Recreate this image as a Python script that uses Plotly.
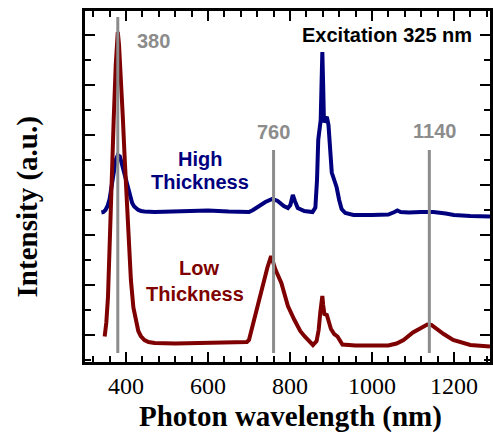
import plotly.graph_objects as go

# ---------------- data ----------------
high_nm = [340, 345, 350, 355, 360, 365, 370, 375, 380, 385, 390, 395, 400, 405, 410, 415, 420, 425, 430, 437, 445,
           470, 520, 560, 600, 650, 690, 700, 710, 720, 740, 757, 770, 785, 795, 801, 807, 812, 819, 835, 855,
           862, 866, 869, 872, 875, 877, 879, 881, 883, 886, 890, 894, 898, 902, 908, 914, 920, 926, 935,
           955, 1000, 1040, 1055, 1062, 1070, 1090, 1120, 1150, 1180, 1200, 1240, 1288]
high_int = [2.45, 2.46, 2.50, 2.58, 2.72, 2.95, 3.25, 3.50, 3.60, 3.57, 3.42, 3.25, 3.10, 2.90, 2.75, 2.64, 2.57, 2.53, 2.50, 2.48, 2.47,
            2.46, 2.47, 2.48, 2.49, 2.47, 2.45, 2.46, 2.50, 2.56, 2.66, 2.72, 2.68, 2.58, 2.54, 2.60, 2.80, 2.68, 2.54, 2.48, 2.46,
            2.55, 3.10, 3.90, 4.20, 4.30, 5.00, 5.66, 5.00, 4.25, 4.32, 4.36, 4.20, 3.70, 3.25, 3.10, 2.95, 2.70, 2.52, 2.44,
            2.40, 2.40, 2.41, 2.46, 2.49, 2.46, 2.45, 2.46, 2.46, 2.43, 2.40, 2.38, 2.37]

low_nm = [348, 352, 356, 360, 365, 370, 375, 378, 380, 383, 387, 392, 397, 402, 407, 412, 418, 425, 430, 436, 445,
          455, 470, 520, 600, 660, 695, 700, 706, 720, 730, 745, 754, 765, 779, 795, 811, 825, 836, 856,
          865, 870, 874, 877, 879, 881, 884, 890, 895, 900, 908, 916, 928, 960, 1000, 1040, 1060, 1077,
          1100, 1117, 1135, 1145, 1157, 1175, 1198, 1220, 1240, 1288]
low_int = [-0.03, 0.25, 0.75, 1.90, 3.20, 4.30, 5.40, 5.90, 6.06, 5.80, 5.30, 4.40, 3.50, 2.60, 1.80, 1.10, 0.55, 0.22, 0.08, -0.02, -0.10,
           -0.14, -0.16, -0.17, -0.16, -0.15, -0.14, -0.10, 0.10, 0.60, 0.90, 1.35, 1.58, 1.30, 1.04, 0.58, 0.30, 0.08, -0.03, -0.20,
           -0.12, 0.10, 0.45, 0.70, 0.78, 0.60, 0.42, 0.40, 0.22, 0.12, 0.02, -0.03, -0.19, -0.21, -0.21, -0.21, -0.17, -0.10,
           0.05, 0.13, 0.21, 0.20, 0.12, 0.02, -0.10, -0.16, -0.20, -0.23]

marker_nm = [380, 760, 1140]
marker_top = [6.36, 3.70, 3.70]
marker_bottom = -0.36
marker_labels = ["380", "760", "1140"]
marker_label_x = [466, 759, 1153]
marker_label_y = [5.89, 4.06, 4.08]

x_ticks = [400, 600, 800, 1000, 1200]

# ---------------- figure ----------------
fig = go.Figure()

fig.add_trace(go.Scatter(x=high_nm, y=high_int, mode="lines", name="High Thickness",
                         line=dict(color="#00007f", width=4), showlegend=False))
fig.add_trace(go.Scatter(x=low_nm, y=low_int, mode="lines", name="Low Thickness",
                         line=dict(color="#7f0000", width=4), showlegend=False))

vx, vy = [], []
for xm, top in zip(marker_nm, marker_top):
    vx += [xm, xm, None]
    vy += [marker_bottom, top, None]
fig.add_trace(go.Scatter(x=vx, y=vy, mode="lines", line=dict(color="#8c8c8c", width=3),
                         showlegend=False, hoverinfo="skip"))

sans = "Liberation Sans, Arial, sans-serif"
serif = "Liberation Serif, Times New Roman, serif"

for lab, lx, ly in zip(marker_labels, marker_label_x, marker_label_y):
    fig.add_annotation(x=lx, y=ly, text="<b>%s</b>" % lab, showarrow=False,
                       font=dict(family=sans, size=20, color="#8c8c8c"))

fig.add_annotation(x=1036, y=6.01, text="<b>Excitation 325 nm</b>", showarrow=False,
                   font=dict(family=sans, size=20, color="black"))
fig.add_annotation(x=580, y=3.53, text="<b>High</b>", showarrow=False,
                   font=dict(family=sans, size=20, color="#00007f"))
fig.add_annotation(x=581, y=3.07, text="<b>Thickness</b>", showarrow=False,
                   font=dict(family=sans, size=20, color="#00007f"))
fig.add_annotation(x=579, y=1.34, text="<b>Low</b>", showarrow=False,
                   font=dict(family=sans, size=20, color="#7f0000"))
fig.add_annotation(x=568, y=0.83, text="<b>Thickness</b>", showarrow=False,
                   font=dict(family=sans, size=20, color="#7f0000"))

# axis titles
fig.add_annotation(xref="paper", yref="paper", x=0.5086, y=-0.154, text="<b>Photon wavelength (nm)</b>",
                   showarrow=False, xanchor="center", yanchor="middle",
                   font=dict(family=serif, size=29, color="black"))
fig.add_annotation(xref="paper", yref="paper", x=-0.1397, y=0.4416, text="<b>Intensity (a.u.)</b>",
                   showarrow=False, xanchor="center", yanchor="middle", textangle=-90,
                   font=dict(family=serif, size=29, color="black"))

fig.update_xaxes(range=[300, 1288], tickvals=x_ticks, ticktext=[str(v) for v in x_ticks],
                 ticks="inside", ticklen=10, tickwidth=2, tickcolor="black",
                 showline=True, linewidth=2.5, linecolor="black", mirror="allticks",
                 showgrid=False, zeroline=False,
                 tickfont=dict(family=serif, size=24, color="black"),
                 minor=dict(tick0=0, dtick=40, ticks="inside", ticklen=6, tickwidth=2, tickcolor="black"))
fig.update_yaxes(range=[-0.54, 6.48], tick0=0, dtick=1, showticklabels=False,
                 ticks="inside", ticklen=10, tickwidth=2, tickcolor="black",
                 showline=True, linewidth=2.5, linecolor="black", mirror="allticks",
                 showgrid=False, zeroline=False,
                 minor=dict(tick0=0, dtick=0.5, ticks="inside", ticklen=6, tickwidth=2, tickcolor="black"))

fig.update_layout(width=493, height=434, margin=dict(l=85, r=0, t=11, b=72),
                  plot_bgcolor="white", paper_bgcolor="white", showlegend=False)

fig.write_html("out.html")
